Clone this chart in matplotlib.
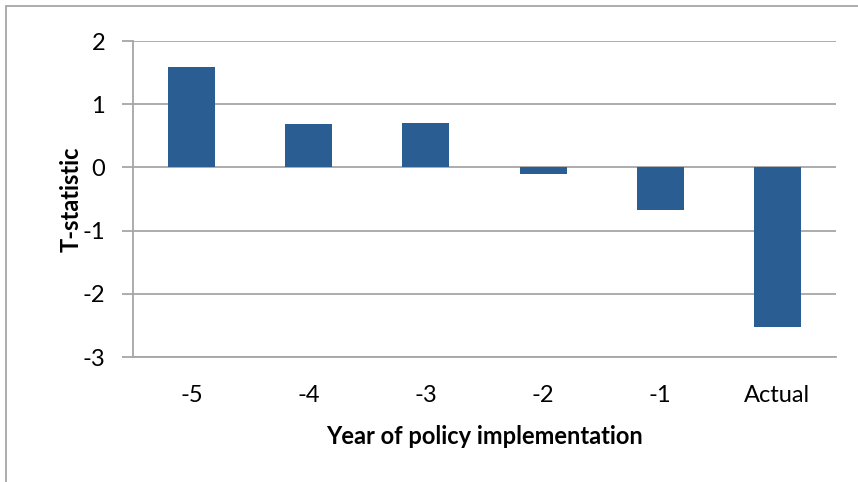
import matplotlib.pyplot as plt
from matplotlib.patches import Rectangle

categories = ["-5", "-4", "-3", "-2", "-1", "Actual"]
tstat = [1.59, 0.69, 0.70, -0.11, -0.68, -2.52]

plt.rcParams["font.family"] = ["Lato", "DejaVu Sans"]
plt.rcParams["axes.unicode_minus"] = False

fig = plt.figure(figsize=(8.58, 4.82), dpi=100)
ax = fig.add_axes([133/858, 1-357/482, (836-133)/858, (357-41)/482])

grey = "#a6a6a6"
x = range(len(categories))
ax.bar(x, tstat, width=0.4, color="#2a5d91", zorder=3)

ax.set_xlim(-0.5, len(categories)-0.5)
ax.set_ylim(-3, 2)
ax.set_yticks(range(-3, 3))
ax.set_xticks(list(x))
ax.set_xticklabels(categories)
ax.yaxis.grid(True, color=grey, linewidth=1.3, zorder=0)
ax.set_axisbelow(True)

for s in ["top", "right"]:
    ax.spines[s].set_visible(False)
ax.spines["left"].set_color(grey)
ax.spines["left"].set_linewidth(1.3)
ax.spines["bottom"].set_color(grey)
ax.spines["bottom"].set_linewidth(1.3)
ax.tick_params(axis="y", length=8, width=1.3, color=grey, labelsize=17, pad=12)
ax.tick_params(axis="x", length=0, labelsize=17, pad=20)

ax.set_ylabel("T-statistic", fontsize=17, fontweight="bold", labelpad=0)
ax.set_xlabel("Year of policy implementation", fontsize=17, fontweight="bold", labelpad=14)

fig.patches.append(Rectangle((6/858, -0.1), 1.1, 1-6/482+0.1, transform=fig.transFigure,
                             fill=False, edgecolor=grey, linewidth=1.3))

fig.savefig("out.png", dpi=100)
